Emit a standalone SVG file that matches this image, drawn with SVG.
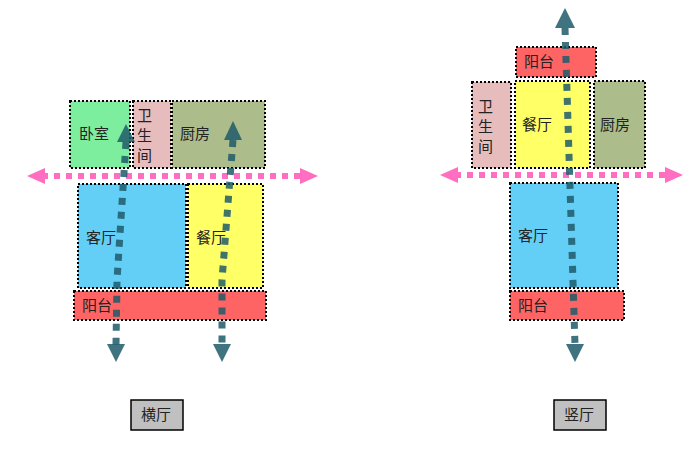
<svg xmlns="http://www.w3.org/2000/svg" width="700" height="456" viewBox="0 0 700 456">
<defs>
<style>
.r{stroke:#000;stroke-width:2;stroke-dasharray:2 2}
.t{font-family:"Noto Sans CJK SC",sans-serif;font-size:15px;fill:#222}
.pk{stroke:#ff6ec0;stroke-width:6;stroke-dasharray:6 6;fill:none}
.tl{stroke:#1f5a6a;stroke-opacity:0.85;stroke-width:7;stroke-dasharray:7 7;fill:none}
.ah{fill:#1f5a6a;fill-opacity:0.85}
.pa{fill:#ff6ec0}
.lb{fill:#c0c0c0;stroke:#000;stroke-width:1.5}
</style>
</defs>
<rect width="700" height="456" fill="#fff"/>
<g id="left">
<g id="l-woshi"><rect class="r" x="70" y="101" width="60" height="67" fill="#7ded9e"/><text class="t" x="79" y="139">卧室</text></g>
<g id="l-wsj"><rect class="r" x="133" y="101" width="38" height="67" fill="#e6bcbc"/><text class="t" x="137" y="121">卫</text><text class="t" x="137" y="141">生</text><text class="t" x="137" y="161">间</text></g>
<g id="l-chufang"><rect class="r" x="172" y="101" width="93" height="67" fill="#adbc8b"/><text class="t" x="180" y="139">厨房</text></g>
<g id="l-keting"><rect class="r" x="78" y="184" width="108" height="104" fill="#63cff7"/><text class="t" x="86" y="243">客厅</text></g>
<g id="l-canting"><rect class="r" x="188" y="184" width="75" height="104" fill="#ffff66"/><text class="t" x="196" y="243">餐厅</text></g>
<g id="l-yangtai"><rect class="r" x="74" y="291" width="192" height="29" fill="#ff6464"/><text class="t" x="82" y="311">阳台</text></g>
<g id="l-label"><rect class="lb" x="131" y="400" width="52" height="30"/><text class="t" x="141" y="420">横厅</text></g>
</g>
<g id="right">
<g id="r-yangtai1"><rect class="r" x="516" y="47" width="80" height="30" fill="#ff6464"/><text class="t" x="524" y="67">阳台</text></g>
<g id="r-wsj"><rect class="r" x="472" y="82" width="39" height="86" fill="#e6bcbc"/><text class="t" x="478" y="112">卫</text><text class="t" x="478" y="132">生</text><text class="t" x="478" y="152">间</text></g>
<g id="r-canting"><rect class="r" x="515" y="81" width="75" height="87" fill="#ffff66"/><text class="t" x="522" y="130">餐厅</text></g>
<g id="r-chufang"><rect class="r" x="594" y="81" width="51" height="87" fill="#adbc8b"/><text class="t" x="600" y="130">厨房</text></g>
<g id="r-keting"><rect class="r" x="510" y="183" width="108" height="105" fill="#63cff7"/><text class="t" x="518" y="241">客厅</text></g>
<g id="r-yangtai2"><rect class="r" x="510" y="291" width="114" height="29" fill="#ff6464"/><text class="t" x="518" y="311">阳台</text></g>
<g id="r-label"><rect class="lb" x="554" y="400" width="52" height="30"/><text class="t" x="564" y="420">竖厅</text></g>
</g>
<g id="connectors">
<path class="pk" d="M42 176H303"/><polygon class="pa" points="27,176 45,168 45,184"/><polygon class="pa" points="318,176 300,168 300,184"/>
<path class="pk" d="M455 175H668"/><polygon class="pa" points="440,175 458,167 458,183"/><polygon class="pa" points="683,175 665,167 665,183"/>
<path class="tl" d="M126 142L117 280L116 345"/><polygon class="ah" points="126,124 117,142 135,142"/><polygon class="ah" points="116,362 107,344 125,344"/>
<path class="tl" d="M233 140L222 280L222 345"/><polygon class="ah" points="233,121 224,140 242,140"/><polygon class="ah" points="222,362 213,344 231,344"/>
<path class="tl" d="M565 28L575 345"/><polygon class="ah" points="565,8 555,28 575,28"/><polygon class="ah" points="575,362 566,344 584,344"/>
</g>
</svg>
